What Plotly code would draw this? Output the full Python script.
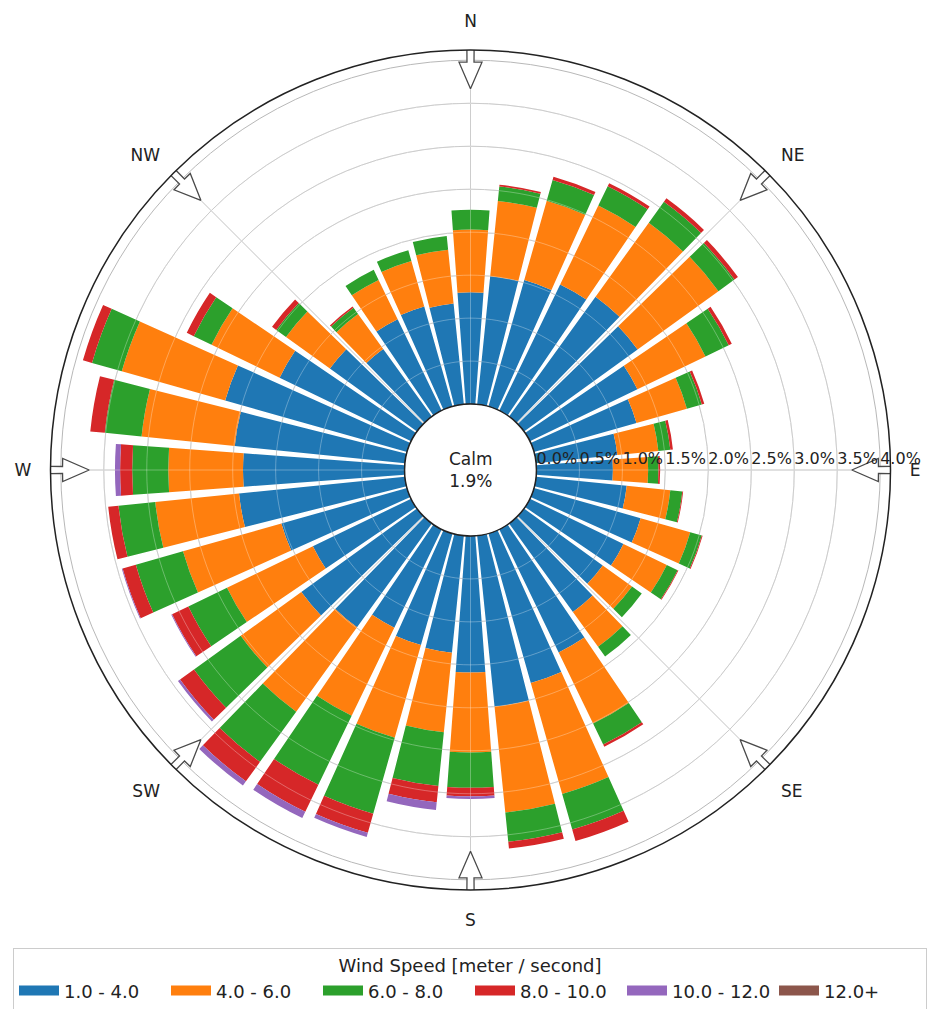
import plotly.graph_objects as go

# Wind direction sectors (degrees clockwise from north), 10-degree bins
directions = list(range(0, 360, 10))

speed_bins = ["1.0 - 4.0", "4.0 - 6.0", "6.0 - 8.0", "8.0 - 10.0", "10.0 - 12.0", "12.0+"]

# Frequency (%) of each speed class per direction sector
freq_1_4 = [1.30, 1.50, 1.53, 1.63, 1.72, 1.63, 1.39, 1.24, 0.95, 0.89, 1.06, 1.29,
            1.21, 1.13, 1.27, 1.59, 1.81, 2.00, 1.59, 1.37, 1.35, 1.27, 1.49, 1.66,
            1.27, 1.52, 1.94, 1.88, 1.99, 2.20, 1.70, 1.25, 0.97, 1.18, 1.21, 1.18]
freq_4_6 = [0.73, 0.88, 0.96, 1.02, 1.06, 1.16, 0.88, 0.61, 0.48, 0.41, 0.51, 0.60,
            0.56, 0.42, 0.50, 0.92, 1.34, 1.24, 0.93, 0.93, 1.12, 1.14, 1.21, 0.87,
            1.11, 1.19, 0.98, 0.87, 1.09, 1.25, 0.88, 0.63, 0.50, 0.51, 0.55, 0.63]
freq_6_8 = [0.23, 0.17, 0.25, 0.25, 0.30, 0.23, 0.30, 0.18, 0.14, 0.12, 0.14, 0.14,
            0.14, 0.14, 0.14, 0.27, 0.43, 0.34, 0.41, 0.63, 0.92, 0.89, 0.72, 0.67,
            0.50, 0.57, 0.43, 0.42, 0.43, 0.36, 0.23, 0.14, 0.09, 0.13, 0.13, 0.16]
freq_8_10 = [0.00, 0.02, 0.04, 0.04, 0.05, 0.05, 0.04, 0.03, 0.03, 0.02, 0.01, 0.01,
             0.01, 0.00, 0.00, 0.03, 0.14, 0.08, 0.10, 0.19, 0.23, 0.35, 0.28, 0.20,
             0.21, 0.16, 0.12, 0.14, 0.17, 0.11, 0.09, 0.06, 0.02, 0.00, 0.00, 0.00]
freq_10_12 = [0.00, 0.00, 0.00, 0.00, 0.00, 0.00, 0.00, 0.00, 0.00, 0.00, 0.00, 0.00,
              0.00, 0.00, 0.00, 0.00, 0.00, 0.00, 0.03, 0.09, 0.05, 0.08, 0.06, 0.03,
              0.01, 0.01, 0.00, 0.06, 0.00, 0.00, 0.00, 0.00, 0.00, 0.00, 0.00, 0.00]
freq_12_up = [0.00] * 36

calm_pct = 1.9

radial_ticks = [0.0, 0.5, 1.0, 1.5, 2.0, 2.5, 3.0, 3.5, 4.0]
compass_labels = ["N", "NE", "E", "SE", "S", "SW", "W", "NW"]
compass_deg = [0, 45, 90, 135, 180, 225, 270, 315]

colors = ["#1f77b4", "#ff7f0e", "#2ca02c", "#d62728", "#9467bd", "#8c564b"]
series = [freq_1_4, freq_4_6, freq_6_8, freq_8_10, freq_10_12, freq_12_up]

FONT = "DejaVu Sans"
W, H = 931, 1009
R_MAX = 4.12
HOLE = 0.157
cx, cy, rad = 470.5, 470.0, 420.0
dom_x = [(cx - rad) / W, (cx + rad) / W]
dom_y = [1 - (cy + rad) / H, 1 - (cy - rad) / H]
px_per_unit = (rad * (1 - HOLE)) / R_MAX

fig = go.Figure()

# Stacked sectors
for name, vals, col in zip(speed_bins, series, colors):
    fig.add_trace(go.Barpolar(
        r=vals, theta=directions, width=8.4, name=name,
        marker=dict(color=col, line=dict(width=0)),
        showlegend=False, hoverinfo="skip",
    ))

# Light grid drawn over the bars
grid_theta = list(range(0, 361, 2))
for rv in radial_ticks[1:-1]:
    fig.add_trace(go.Scatterpolar(
        r=[rv] * len(grid_theta), theta=grid_theta, mode="lines",
        line=dict(color="rgba(255,255,255,0.3)", width=1),
        showlegend=False, hoverinfo="skip",
    ))
for d in compass_deg:
    fig.add_trace(go.Scatterpolar(
        r=[0, R_MAX], theta=[d, d], mode="lines",
        line=dict(color="rgba(255,255,255,0.3)", width=1),
        showlegend=False, hoverinfo="skip",
    ))

# Outline of the calm circle
fig.add_trace(go.Scatterpolar(
    r=[0] * len(grid_theta), theta=grid_theta, mode="lines",
    line=dict(color="#333333", width=1),
    showlegend=False, hoverinfo="skip",
))

# Compass arrows pointing inward
tail, neck, tip = 4.16, 3.98, 3.67
for d in compass_deg:
    r_neck_px = rad * HOLE + neck * px_per_unit
    shaft = 3.5 / r_neck_px * 57.2958
    head = 11.5 / r_neck_px * 57.2958
    fig.add_trace(go.Scatterpolar(
        r=[tail, neck, neck, tip, neck, neck, tail, tail],
        theta=[d - shaft, d - shaft, d - head, d, d + head, d + shaft, d + shaft, d - shaft],
        mode="lines", fill="toself", fillcolor="white",
        line=dict(color="#4a4a4a", width=1.3),
        cliponaxis=False, showlegend=False, hoverinfo="skip",
    ))

# Radial tick labels along the east axis (sitting just above the axis line)
fig.add_trace(go.Scatterpolar(
    r=radial_ticks, theta=[90] * len(radial_ticks), mode="text",
    text=[f"{v:.1f}%<br> " for v in radial_ticks], textposition="middle right",
    textfont=dict(family=FONT, size=16, color="#222222"),
    cliponaxis=False, showlegend=False, hoverinfo="skip",
))

# Legend entries
for name, col in zip(speed_bins, colors):
    fig.add_trace(go.Scatterpolar(
        r=[None], theta=[None], mode="lines", name=name,
        line=dict(color=col, width=10),
    ))

fig.add_annotation(
    x=(dom_x[0] + dom_x[1]) / 2, y=(dom_y[0] + dom_y[1]) / 2,
    xref="paper", yref="paper", showarrow=False,
    text=f"Calm<br>{calm_pct:.1f}%",
    font=dict(family=FONT, size=17, color="#222222"),
)

fig.update_layout(
    width=W, height=H,
    margin=dict(l=0, r=0, t=0, b=0, autoexpand=False),
    paper_bgcolor="white",
    font=dict(family=FONT, color="#222222"),
    polar=dict(
        domain=dict(x=dom_x, y=dom_y),
        hole=HOLE,
        bgcolor="white",
        barmode="stack",
        radialaxis=dict(
            range=[0, R_MAX], tickvals=radial_ticks[1:], showticklabels=False,
            ticks="", showline=False, gridcolor="#b8b8b8", gridwidth=1,
        ),
        angularaxis=dict(
            rotation=90, direction="clockwise",
            tickvals=compass_deg, ticktext=compass_labels,
            showticklabels=True, ticks="outside", ticklen=15,
            tickcolor="rgba(0,0,0,0)",
            tickfont=dict(family=FONT, size=17, color="#222222"),
            showline=True, linecolor="#222222", linewidth=1.5,
            gridcolor="#b8b8b8", gridwidth=1,
        ),
    ),
    legend=dict(
        orientation="h", x=470 / W, xanchor="center", y=1 - 948 / H, yanchor="top",
        title=dict(text="Wind Speed [meter / second]", side="top center",
                   font=dict(family=FONT, size=18, color="#222222")),
        font=dict(family=FONT, size=18, color="#222222"),
        bordercolor="#cccccc", borderwidth=1, bgcolor="white",
        entrywidth=97, itemwidth=40,
    ),
)

fig.write_html("out.html")
